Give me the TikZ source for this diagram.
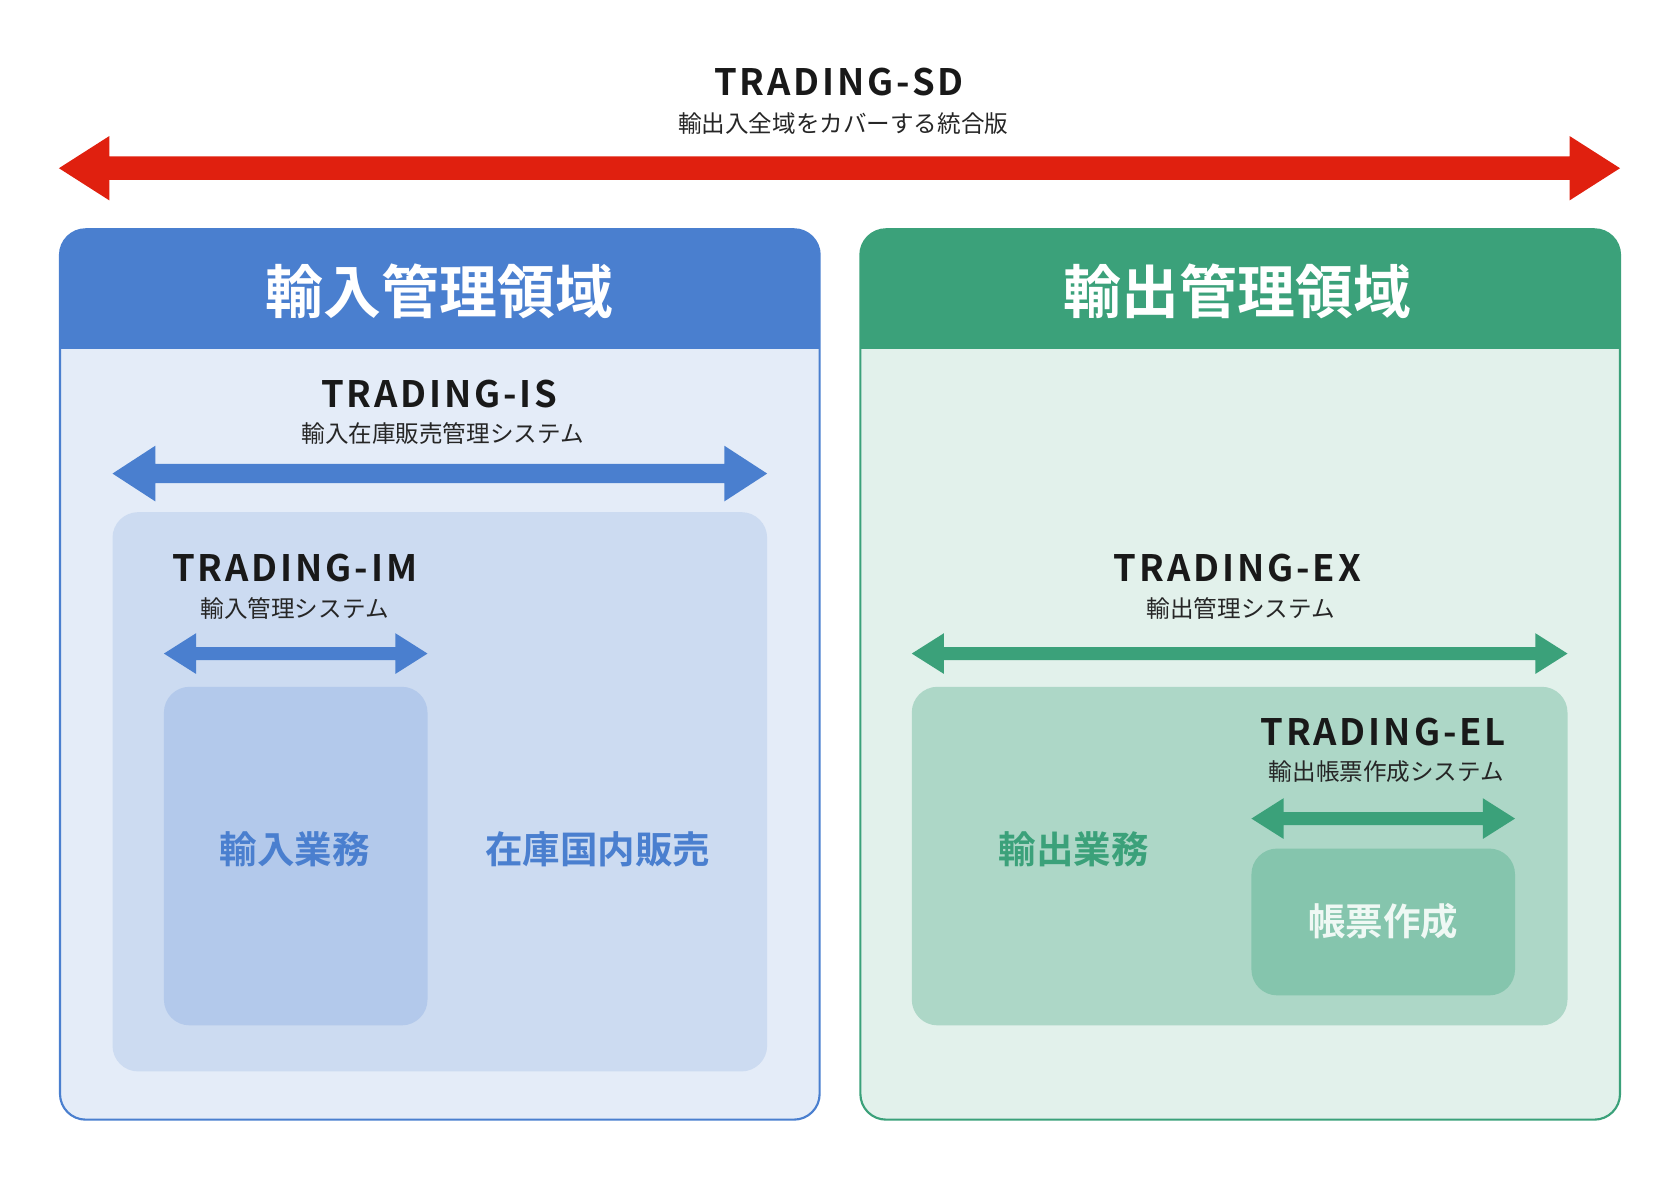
\documentclass[tikz,border=0pt]{standalone}
\usepackage{fontspec}
\setmainfont{Noto Sans CJK JP}
\newfontfamily\jpbold{Noto Sans CJK JP Bold}
\newfontfamily\trbold[LetterSpace=8]{Noto Sans CJK JP Bold}
\usetikzlibrary{positioning}
\definecolor{imblue}{HTML}{4A7FCF}
\definecolor{exgreen}{HTML}{3BA17A}
\definecolor{sdred}{HTML}{E0200F}
\tikzset{
  prodname/.style={font=\trbold\fontsize{17}{20}\selectfont, text=black!90, inner sep=0pt},
  prodsub/.style={font=\fontsize{11}{13}\selectfont, text=black!85, inner sep=0pt},
  areahead/.style={font=\jpbold\fontsize{27}{30}\selectfont, text=white, inner sep=0pt},
  worklabel/.style={font=\jpbold\fontsize{17.5}{20}\selectfont, inner sep=0pt},
}
% double arrow: x1, x2, y, half shaft, half head, head length, colour
\newcommand{\dblarrow}[7]{%
  \fill[#7] (#1,#3) -- (#1+#6,#3-#5) -- (#1+#6,#3-#4) -- (#2-#6,#3-#4) -- (#2-#6,#3-#5)
    -- (#2,#3) -- (#2-#6,#3+#5) -- (#2-#6,#3+#4) -- (#1+#6,#3+#4) -- (#1+#6,#3+#5) -- cycle;}
\begin{document}
\begin{tikzpicture}[x=0.5pt,y=-0.5pt]
\useasboundingbox (0,0) rectangle (1568,1101);

% whole range
\node[prodname] (sd) at (783,77) {TRADING-SD};
\node[prodsub] (sdsub) at (787,115) {輸出入全域をカバーする統合版};
\dblarrow{55}{1512}{157}{11}{30}{47}{sdred}

% import area
\fill[imblue!15] (56,214) [rounded corners=12] rectangle (765,1045);
\draw[imblue, line width=1pt, rounded corners=12] (56,214) rectangle (765,1045);
\fill[imblue, rounded corners=12] (56,214) rectangle (765,300);
\fill[imblue] (56,260) rectangle (765,326);
\node[areahead] (imhead) at (410,272) {輸入管理領域};

\node[prodname] (is) at (410,368) {TRADING-IS};
\node[prodsub] (issub) at (413,405) {輸入在庫販売管理システム};
\dblarrow{105}{716}{442}{9}{26}{40}{imblue}
\fill[imblue!28, rounded corners=12] (105,478) rectangle (716,1000);

\node[prodname] (im) at (275,530) {TRADING-IM};
\node[prodsub] (imsub) at (275,568) {輸入管理システム};
\dblarrow{153}{399}{610}{6}{19}{30}{imblue}
\fill[imblue!42, rounded corners=12] (153,641) rectangle (399,957);
\node[worklabel, text=imblue] (imwork) at (275,793) {輸入業務};
\node[worklabel, text=imblue] (sales) at (558,793) {在庫国内販売};

% export area
\fill[exgreen!15] (803,214) [rounded corners=12] rectangle (1512,1045);
\draw[exgreen, line width=1pt, rounded corners=12] (803,214) rectangle (1512,1045);
\fill[exgreen, rounded corners=12] (803,214) rectangle (1512,300);
\fill[exgreen] (803,260) rectangle (1512,326);
\node[areahead] (exhead) at (1155,272) {輸出管理領域};

\node[prodname] (ex) at (1155,530) {TRADING-EX};
\node[prodsub] (exsub) at (1158,568) {輸出管理システム};
\dblarrow{851}{1463}{610}{6}{19}{30}{exgreen}
\fill[exgreen!42, rounded corners=12] (851,641) rectangle (1463,957);
\node[worklabel, text=exgreen] (exwork) at (1002,793) {輸出業務};

\node[prodname] (el) at (1291,683) {TRADING-EL};
\node[prodsub] (elsub) at (1294,720) {輸出帳票作成システム};
\dblarrow{1168}{1414}{764}{6}{19}{30}{exgreen}
\fill[exgreen!62, rounded corners=12] (1168,792) rectangle (1414,929);
\node[worklabel, text=exgreen!8] (form) at (1291,860) {帳票作成};
\end{tikzpicture}
\end{document}
